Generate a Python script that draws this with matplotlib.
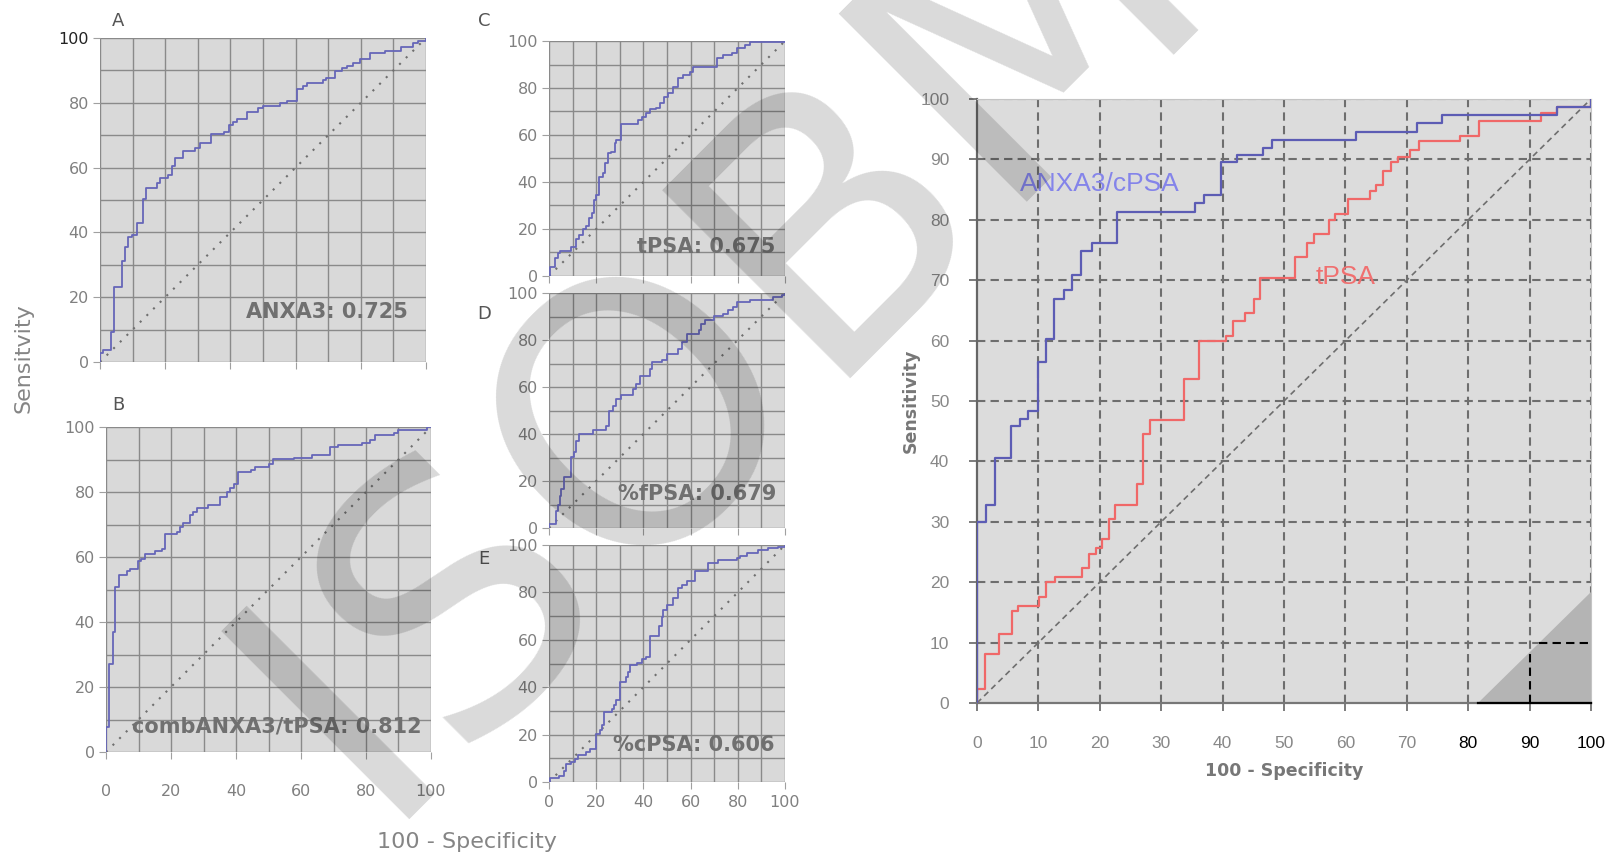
import matplotlib
matplotlib.use("Agg")
import matplotlib.pyplot as plt

# ROC step curves, (100 - specificity, sensitivity) in %
a_x = [0, 0, 1.0, 3.4, 4.3, 6.6, 7.7, 8.7, 9.7, 11.2, 13.1, 14.1, 17.4, 18.4, 21.0, 22.0, 23.0, 25.6, 29.1, 30.7,
       34.0, 38.1, 39.7, 40.9, 41.9, 45.2, 48.6, 50.1, 55.2, 57.3, 60.3, 62.4, 63.4, 68.3, 69.3, 72.1, 74.1, 75.7,
       77.7, 79.8, 82.8, 87.4, 92.2, 96.1, 97.6, 100]
a_y = [0, 2.8, 3.6, 9.3, 23.2, 31.1, 35.4, 38.5, 39.2, 43.0, 50.3, 53.6, 55.2, 56.7, 57.7, 60.5, 63.1, 65.0, 66.0,
       67.7, 70.4, 71.1, 73.0, 74.2, 75.1, 77.3, 78.4, 79.1, 79.9, 80.7, 84.2, 85.3, 86.1, 87.1, 87.6, 89.9, 90.7,
       91.5, 92.3, 93.5, 95.4, 96.1, 97.1, 98.5, 99.0, 100]

b_x = [0, 0, 0.9, 2.1, 2.8, 4.1, 6.6, 7.4, 9.7, 10.7, 12.0, 15.1, 17.1, 18.2, 21.8, 22.8, 23.8, 25.7, 26.9, 27.9,
       31.5, 35.1, 37.2, 38.2, 39.5, 40.5, 44.6, 45.9, 50.0, 51.5, 57.7, 63.3, 68.8, 71.3, 78.7, 81.3, 82.9, 88.5,
       90.0, 98.8, 100]
b_y = [0, 7.7, 27.2, 36.9, 50.8, 54.4, 55.7, 56.4, 58.7, 59.5, 61.0, 61.8, 62.6, 67.0, 67.7, 69.2, 70.5, 72.8, 73.8,
       75.1, 75.9, 78.5, 80.0, 81.3, 82.4, 86.2, 86.9, 87.7, 88.7, 90.1, 90.6, 91.4, 93.8, 94.6, 95.2, 96.1, 97.6,
       98.3, 99.2, 100, 100]

c_x = [0, 0.3, 2.4, 3.8, 4.5, 9.5, 11.3, 12.7, 14.4, 15.6, 17.0, 18.4, 19.0, 19.8, 21.2, 22.9, 23.9, 25.0, 26.4,
       27.9, 28.6, 30.3, 37.8, 39.2, 41.3, 42.7, 45.5, 47.0, 48.8, 50.5, 52.6, 54.7, 56.9, 59.7, 61.1, 71.0, 73.8,
       77.4, 79.5, 83.0, 85.1, 100]
c_y = [0, 3.9, 7.5, 9.6, 10.8, 12.5, 15.6, 17.4, 19.9, 21.3, 24.5, 26.7, 32.3, 34.5, 42.3, 44.0, 47.9, 52.2, 52.9,
       56.5, 57.9, 64.7, 66.4, 67.5, 69.2, 70.9, 71.3, 73.5, 76.3, 78.0, 80.6, 84.1, 85.5, 87.0, 89.1, 92.6, 94.0,
       94.8, 96.9, 98.3, 99.7, 100]

d_x = [0, 0, 2.8, 3.8, 4.5, 5.2, 6.4, 9.5, 10.5, 11.3, 12.6, 18.7, 24.3, 25.5, 27.2, 28.6, 30.3, 35.4, 36.8, 38.5,
       42.7, 43.7, 47.7, 49.8, 54.7, 56.2, 58.3, 63.6, 64.6, 66.0, 69.9, 73.8, 76.0, 77.8, 79.5, 85.1, 95.0, 98.6, 100]
d_y = [0, 1.7, 7.4, 9.9, 13.8, 16.6, 21.6, 30.4, 32.2, 37.2, 39.8, 41.9, 43.3, 50.0, 52.1, 55.0, 56.4, 59.2, 61.4,
       64.6, 67.8, 70.6, 71.7, 73.9, 76.0, 79.1, 82.7, 84.1, 86.9, 88.4, 90.1, 91.2, 92.9, 94.0, 96.2, 96.9, 98.3,
       99.0, 100]

e_x = [0, 0.3, 4.2, 6.2, 7.1, 9.5, 10.9, 12.3, 15.6, 17.3, 19.8, 21.5, 22.6, 23.2, 26.9, 27.4, 28.6, 30.0, 32.8,
       33.5, 34.5, 37.1, 39.2, 41.3, 42.7, 46.7, 47.7, 48.4, 49.8, 52.6, 54.8, 56.2, 58.3, 61.8, 67.5, 71.7, 79.5,
       80.9, 83.7, 88.7, 92.9, 97.2, 100]
e_y = [0, 1.8, 2.4, 4.6, 7.5, 8.5, 9.9, 11.5, 12.7, 14.1, 20.4, 21.8, 23.9, 29.6, 31.0, 32.4, 34.5, 42.3, 44.4,
       46.5, 49.3, 50.3, 51.7, 52.8, 61.5, 65.8, 69.7, 72.5, 74.6, 77.5, 81.7, 83.1, 84.9, 89.2, 92.3, 93.7, 94.4,
       95.4, 96.5, 97.9, 98.6, 99.3, 100]

# right panel: ANXA3/cPSA vs tPSA
blue_x = [0, 0, 1.4, 2.9, 5.6, 7.0, 8.3, 9.9, 11.2, 12.6, 14.1, 15.4, 16.9, 18.7, 22.8, 35.5, 37.0, 39.7, 42.3,
          46.5, 48.0, 61.8, 71.6, 75.8, 94.4, 100]
blue_y = [0, 30.0, 32.8, 40.6, 45.9, 47.0, 48.4, 56.4, 60.3, 66.9, 68.4, 70.8, 74.8, 76.2, 81.3, 82.7, 84.1, 89.6,
          90.7, 91.9, 93.2, 94.6, 96.0, 97.4, 98.7, 100]
red_x = [0, 0, 1.3, 3.6, 5.7, 6.7, 10.1, 11.3, 12.7, 17.1, 18.3, 19.4, 20.3, 21.5, 22.5, 26.1, 27.1, 28.2, 33.7,
         36.2, 40.5, 41.7, 43.7, 45.1, 46.1, 51.8, 53.8, 54.9, 57.4, 58.3, 60.4, 64.0, 65.0, 66.1, 67.4, 68.5, 70.6,
         72.0, 78.7, 81.8, 91.8, 94.4, 100]
red_y = [0, 2.3, 8.1, 11.5, 15.3, 16.1, 17.6, 20.0, 20.9, 22.3, 24.7, 25.7, 27.1, 30.4, 32.8, 36.2, 44.6, 46.8,
         53.7, 59.9, 60.8, 63.2, 64.6, 66.9, 70.4, 73.9, 76.1, 77.6, 79.9, 80.9, 83.4, 84.7, 85.7, 88.1, 89.5, 90.4,
         91.5, 93.0, 93.9, 96.3, 97.7, 98.7, 100]

ticks20 = [0, 20, 40, 60, 80, 100]
ticks10 = list(range(0, 101, 10))

W, H = 1608, 855
fig = plt.figure(figsize=(W / 100, H / 100), dpi=100)


def px_rect(left, top, right, bottom):
    return [left / W, 1 - bottom / H, (right - left) / W, (bottom - top) / H]


def small_panel(rect, x, y, auc_text, auc_pos, xlabels, xpad=4):
    ax = fig.add_axes(rect)
    ax.set_facecolor('#d9d9d9')
    for v in ticks10:
        ax.axvline(v, color='#8a8a8a', lw=1.0, zorder=1)
        ax.axhline(v, color='#8a8a8a', lw=1.0, zorder=1)
    ax.plot([0, 100], [0, 100], ls=(0, (1, 3.5)), color='#6f6f6f', lw=1.5, zorder=2)
    ax.plot(x, y, drawstyle='steps-post', color='#6666b8', lw=1.3, zorder=3)
    ax.text(auc_pos[0], auc_pos[1], auc_text, ha='right', va='center', fontsize=15,
            fontweight='bold', color='#707070', zorder=4)
    ax.set_xlim(0, 100)
    ax.set_ylim(0, 100)
    for s in ax.spines.values():
        s.set_visible(False)
    ax.set_xticks(ticks20)
    ax.set_yticks(ticks20)
    if not xlabels:
        ax.set_xticklabels([])
    ax.tick_params(axis='both', length=5, color='#a0a0a0', labelcolor='#808080', labelsize=11.5)
    ax.tick_params(axis='x', pad=xpad)
    ax.tick_params(axis='y', pad=3)
    return ax


ax_a = small_panel(px_rect(100, 38, 426, 362), a_x, a_y, 'ANXA3: 0.725', (94.5, 15.5), False)
ax_a.get_yticklabels()[-1].set_color('#222222')
small_panel(px_rect(106, 427, 431, 752), b_x, b_y, 'combANXA3/tPSA: 0.812', (97, 7.8), True, xpad=18)
small_panel(px_rect(549, 41, 785, 276), c_x, c_y, 'tPSA: 0.675', (96, 12.5), False)
small_panel(px_rect(549, 293, 785, 528), d_x, d_y, '%fPSA: 0.679', (96.5, 14.5), False)
small_panel(px_rect(549, 545, 785, 782), e_x, e_y, '%cPSA: 0.606', (95.5, 15.5), True)

# panel letters
for lab, (px, py) in zip('ABCDE', [(118, 21), (118, 405), (484, 21), (484, 314), (484, 559)]):
    fig.text(px / W, 1 - py / H, lab, ha='center', va='center', fontsize=13, color='#555555')

fig.text(24 / W, 1 - 358 / H, 'Sensitvity', rotation=90, ha='center', va='center', fontsize=16, color='#858585')
fig.text(467 / W, 1 - 848 / H, '100 - Specificity', ha='center', va='baseline', fontsize=16, color='#858585')

# right panel
ax = fig.add_axes(px_rect(977, 99, 1591, 703))
ax.set_facecolor('#dcdcdc')
for v in ticks10[1:]:
    ax.axvline(v, color='#6e6e6e', lw=1.5, ls=(0, (4, 2.5)), zorder=1)
    ax.axhline(v, color='#6e6e6e', lw=1.5, ls=(0, (4, 2.5)), zorder=1)
ax.plot([0, 100], [0, 100], color='#6e6e6e', lw=1.2, ls=(0, (3.5, 2.5)), zorder=2)
ax.plot(red_x, red_y, drawstyle='steps-post', color='#f06868', lw=1.6, zorder=3)
ax.plot(blue_x, blue_y, drawstyle='steps-post', color='#5c5cb4', lw=1.6, zorder=3)
ax.text(20, 86, 'ANXA3/cPSA', ha='center', va='center', fontsize=19, color='#8484ea', family='Liberation Sans')
ax.text(60, 70.5, 'tPSA', ha='center', va='center', fontsize=19, color='#f07070', family='Liberation Sans')
# shaded corner
ax.fill([81.6, 100, 100], [0, 0, 18.4], color='#b4b4b4', zorder=2.5, lw=0)
ax.plot([90, 90], [0, 8.4], color='black', lw=1.5, ls=(0, (4, 2.5)), zorder=2.6)
ax.plot([91.6, 100], [10, 10], color='black', lw=1.5, ls=(0, (4, 2.5)), zorder=2.6)
ax.plot([81.6, 100], [0, 0], color='black', lw=1.6, zorder=2.6, clip_on=False)
ax.set_xlim(0, 100)
ax.set_ylim(0, 100)
ax.set_xticks(ticks10)
ax.set_yticks(ticks10)
ax.spines['left'].set_color('#666666')
ax.spines['bottom'].set_color('#777777')
ax.spines['left'].set_linewidth(1.6)
ax.spines['bottom'].set_linewidth(1.6)
ax.spines['top'].set_color('#c4c4c4')
ax.spines['right'].set_color('#c4c4c4')
ax.tick_params(axis='both', length=6, width=1.2, color='#666666', labelcolor='#888888', labelsize=12.5)
ax.tick_params(axis='x', pad=18)
ax.tick_params(axis='y', pad=14)
for t in ax.get_yticklabels() + ax.get_xticklabels():
    t.set_family('Liberation Sans')
for t in ax.get_xticklabels()[-3:]:
    t.set_color('black')
ax.set_xlabel('100 - Specificity', fontsize=12.5, fontweight='bold', color='#777777', labelpad=8)
ax.set_ylabel('Sensitivity', fontsize=12.5, fontweight='bold', color='#777777')
ax.yaxis.set_label_coords(-0.093, 0.5)

# watermark
fig.text(794 / W, 1 - 399 / H, 'ISOBM', fontsize=262, rotation=45, rotation_mode='anchor',
         ha='center', va='baseline', color='black', alpha=0.15, zorder=100)

fig.savefig('out.png', dpi=100)
